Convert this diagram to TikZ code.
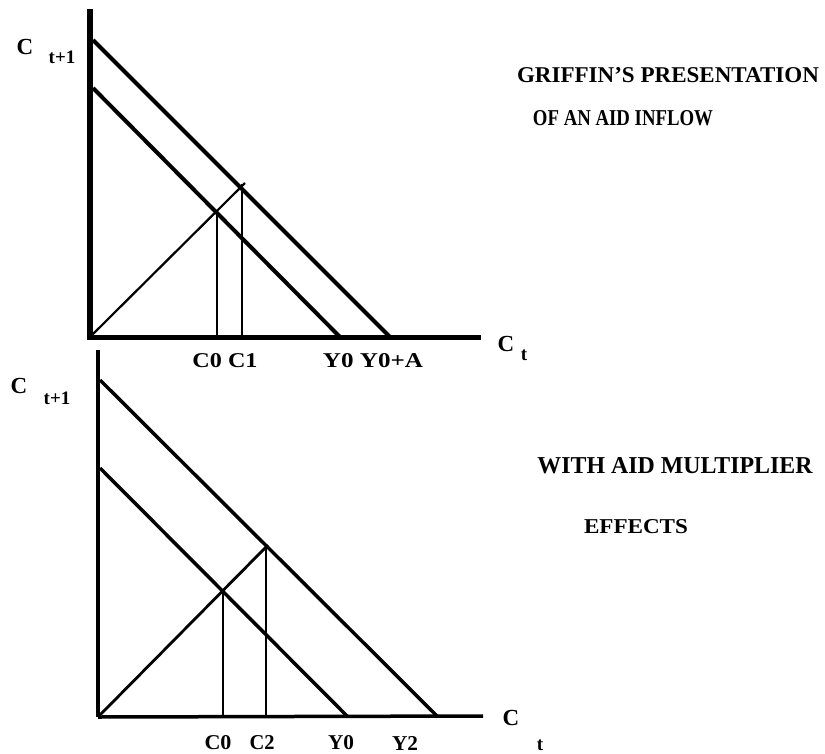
\documentclass[tikz,border=0pt]{standalone}
\usepackage{fontspec}
\usepackage{graphicx}
\setmainfont{Liberation Serif}
\usetikzlibrary{calc,intersections}
\newcommand{\fitlab}[3]{\resizebox{#1pt}{#2pt}{\bfseries #3}}
\tikzset{
  axisA/.style={line width=6pt},
  axisAh/.style={line width=5pt},
  budgetA/.style={line width=4pt},
  thinA/.style={line width=2.2pt},
  axisB/.style={line width=4pt},
  axisBh/.style={line width=3.5pt},
  budgetB/.style={line width=3.5pt},
  thinB/.style={line width=2.8pt},
  lab/.style={inner sep=0pt, anchor=center},
  bigC/.style={inner sep=0pt, font=\fontsize{23}{23}\selectfont\bfseries},
  subC/.style={inner sep=0pt, font=\fontsize{19}{19}\selectfont\bfseries},
}
\begin{document}
\begin{tikzpicture}[x=1pt,y=-1pt]
\useasboundingbox (0,0) rectangle (825,753);
% ---------- top panel ----------
\coordinate (Otop) at (90,337);
\coordinate (Vtop) at (90,12);
\coordinate (Htop) at (478,337);
\coordinate (U1) at (93,40);
\coordinate (U2) at (390,337);
\coordinate (L1) at (93,88);
\coordinate (L2) at (340,337);
\coordinate (R1) at (92,335);
\coordinate (R2) at (245,183);
\coordinate (C0t) at (217,212);
\coordinate (C0b) at (217,337);
\coordinate (C1t) at (242,184);
\coordinate (C1b) at (242,337);
\draw[axisA, line cap=rect] (Otop) -- (Vtop);
\draw[axisAh, line cap=rect] (Otop) -- (Htop);
\draw[budgetA] (U1) -- (U2);
\draw[budgetA] (L1) -- (L2);
\draw[thinA] (R1) -- (R2);
\draw[thinA] (C0t) -- (C0b);
\draw[thinA] (C1t) -- (C1b);
\node[bigC] (ct1C) at (25,47) {C};
\node[subC] (ct1s) at (62,57) {t+1};
\node[bigC] (ctC) at (506,344) {C};
\node[subC] (cts) at (524,355) {t};
\node[lab] (c0c1) at (225,361) {\fitlab{65}{14}{C0 C1}};
\node[lab] (y0y0a) at (373,361) {\fitlab{100}{14}{Y0 Y0+A}};
\node[lab] (title1) at (668,75) {\fitlab{302}{15}{GRIFFIN'S PRESENTATION}};
\node[lab] (title2) at (623,118) {\fitlab{180}{15}{OF AN AID INFLOW}};
% ---------- bottom panel ----------
\coordinate (Obot) at (98,717);
\coordinate (Vbot) at (98,350);
\coordinate (Hbot) at (483,716);
\coordinate (BU1) at (100,380);
\coordinate (BU2) at (438,717);
\coordinate (BL1) at (100,468);
\coordinate (BL2) at (348,717);
\coordinate (BR1) at (98,717);
\coordinate (BR2) at (268,545);
\coordinate (BC0t) at (223,591);
\coordinate (BC0b) at (223,717);
\coordinate (BC2t) at (266,546);
\coordinate (BC2b) at (266,717);
\draw[axisB] (Obot) -- (Vbot);
\draw[axisBh] (Obot) -- (Hbot);
\draw[budgetB] (BU1) -- (BU2);
\draw[budgetB] (BL1) -- (BL2);
\draw[thinB] (BR1) -- (BR2);
\draw[thinB] (BC0t) -- (BC0b);
\draw[thinB] (BC2t) -- (BC2b);
\node[bigC] (bct1C) at (19,386) {C};
\node[subC] (bct1s) at (57,398) {t+1};
\node[bigC] (bctC) at (511,718) {C};
\node[subC] (bcts) at (540,745) {t};
\node[lab] (bc0) at (218,743) {\fitlab{27}{14}{C0}};
\node[lab] (bc2) at (262,743) {\fitlab{25}{14}{C2}};
\node[lab] (by0) at (341,743) {\fitlab{26}{14}{Y0}};
\node[lab] (by2) at (405,743) {\fitlab{26}{14}{Y2}};
\node[lab] (title3) at (675,466) {\fitlab{275}{16}{WITH AID MULTIPLIER}};
\node[lab] (title4) at (636,527) {\fitlab{104}{14}{EFFECTS}};
\end{tikzpicture}
\end{document}
